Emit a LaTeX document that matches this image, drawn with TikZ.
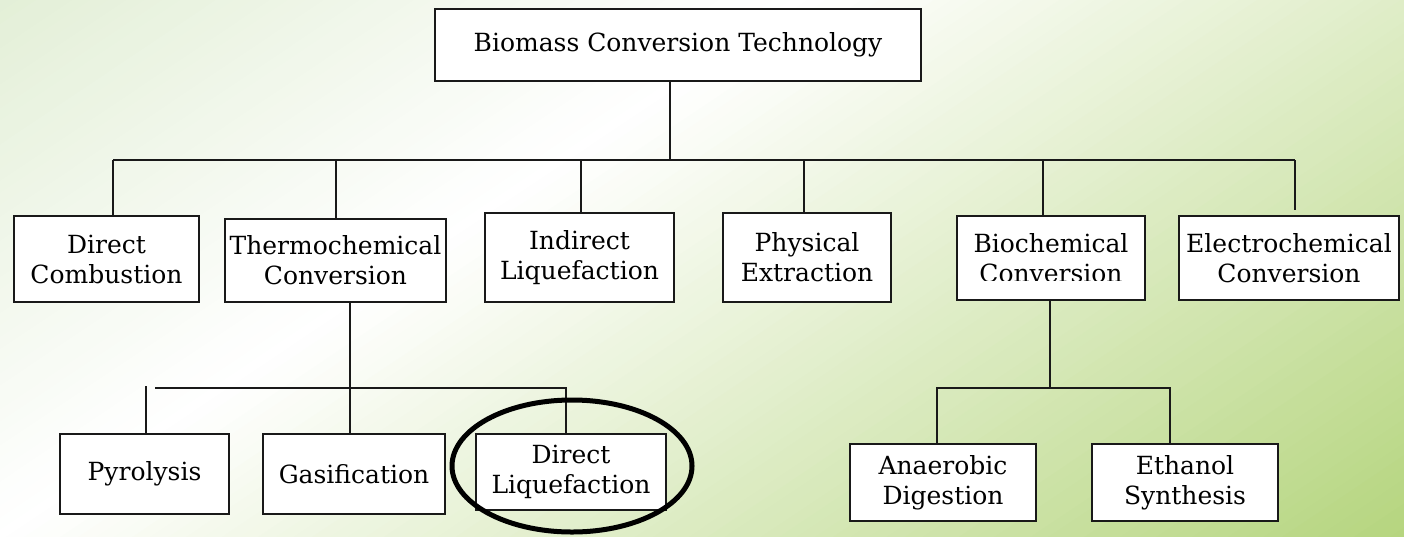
\documentclass[tikz,border=0pt]{standalone}
\usepackage{fontspec}
\setmainfont{DejaVu Serif}
\usetikzlibrary{shapes.geometric}
\definecolor{bgA}{RGB}{227,239,215}
\definecolor{bgB}{RGB}{181,213,126}
\definecolor{ink}{RGB}{25,25,25}
\tikzset{
  txt/.style={inner sep=0pt, align=center, font=\fontsize{25}{30}\selectfont},
  box/.style={txt, draw=ink, fill=white, line width=2.8pt},
  conn/.style={draw=ink, line width=2.8pt},
  ring/.style={draw=black, ellipse, line width=5pt, inner sep=0pt},
}
\begin{document}
\begin{tikzpicture}[x=1pt,y=-1pt]
\useasboundingbox (0,0) rectangle (1404,536);
% background gradient
\begin{scope}
\clip (0,0) rectangle (1404,536);
\foreach \i in {0,...,123}{
  \pgfmathtruncatemacro{\ta}{\i*10}
  \pgfmathtruncatemacro{\tb}{\ta+11}
  \pgfmathtruncatemacro{\tm}{\ta+5}
  \pgfmathtruncatemacro{\pa}{\tm<445 ? (445-\tm)/445*100 : 0}
  \pgfmathtruncatemacro{\pb}{\tm<445 ? 0 : min(100,(\tm-445)/782*100)}
  \ifnum\tm<445 \colorlet{sc}{bgA!\pa!white}\else\colorlet{sc}{bgB!\pb!white}\fi
  \fill[sc] ({\ta*0.5566+1300*0.8307},{\ta*0.8307-1300*0.5566})
    -- ({\ta*0.5566-400*0.8307},{\ta*0.8307+400*0.5566})
    -- ({\tb*0.5566-400*0.8307},{\tb*0.8307+400*0.5566})
    -- ({\tb*0.5566+1300*0.8307},{\tb*0.8307-1300*0.5566}) -- cycle;
}
\end{scope}

% nodes
\node[box, minimum width=486pt, minimum height=72pt] (top) at (678,45) {Biomass Conversion Technology};
\node[box, minimum width=185pt, minimum height=86pt] (dc) at (106.5,259) {Direct\\Combustion};
\node[box, minimum width=221pt, minimum height=83pt] (tc) at (335.5,260.5) {Thermochemical\\Conversion};
\node[box, minimum width=189pt, minimum height=89pt] (il) at (579.5,257.5) {Indirect\\Liquefaction};
\node[box, minimum width=168pt, minimum height=89pt] (pe) at (807,257.5) {Physical\\Extraction};
\node[box, minimum width=188pt, minimum height=84pt] (bc) at (1051,258) {};
\begin{scope}
\clip (956,215) rectangle (1146,280);
\node[txt] (bctext) at (bc.center) {Biochemical\\Conversion};
\end{scope}
\node[box, minimum width=220pt, minimum height=84pt] (ec) at (1289,258) {Electrochemical\\Conversion};
\node[box, minimum width=169pt, minimum height=80pt] (py) at (144.5,474) {Pyrolysis};
\node[box, minimum width=182pt, minimum height=80pt] (ga) at (354,474) {Gasification};
\node[box, minimum width=190pt, minimum height=76pt] (dl) at (571,472) {Direct\\Liquefaction};
\node[box, minimum width=186pt, minimum height=77pt] (ad) at (943,482.5) {Anaerobic\\Digestion};
\node[box, minimum width=186pt, minimum height=77pt] (es) at (1185,482.5) {Ethanol\\Synthesis};

% connector junctions
\coordinate (hub) at (670,160);
\coordinate (d1) at (113,160);
\coordinate (d2) at (336,160);
\coordinate (d3) at (581,160);
\coordinate (d4) at (804,160);
\coordinate (d5) at (1043,160);
\coordinate (d6) at (1295,160);
\coordinate (t1) at (350,388);
\coordinate (p0) at (155,388);
\coordinate (p1) at (146,386);
\coordinate (p3) at (566,388);
\coordinate (b1) at (1050,388);
\coordinate (a1) at (937,388);
\coordinate (a2) at (1170,388);

\draw[conn] (hub |- top.south) -- (hub);
\draw[conn] (d1) -- (d6);
\draw[conn] (d1) -- (d1 |- dc.north);
\draw[conn] (d2) -- (d2 |- tc.north);
\draw[conn] (d3) -- (d3 |- il.north);
\draw[conn] (d4) -- (d4 |- pe.north);
\draw[conn] (d5) -- (d5 |- bc.north);
\draw[conn] (d6) -- ([yshift=5pt]d6 |- ec.north);

\draw[conn] (t1 |- tc.south) -- (t1 |- ga.north);
\draw[conn] (p0) -- (p3) -- (p3 |- dl.north);
\draw[conn] (p1) -- (p1 |- py.north);

\draw[conn] (b1 |- bc.south) -- (b1);
\draw[conn] (a1 |- ad.north) -- (a1) -- (a2) -- (a2 |- es.north);

% highlight ring
\node[ring, minimum width=240pt, minimum height=132pt] (hl) at (572,466) {};
\end{tikzpicture}
\end{document}
